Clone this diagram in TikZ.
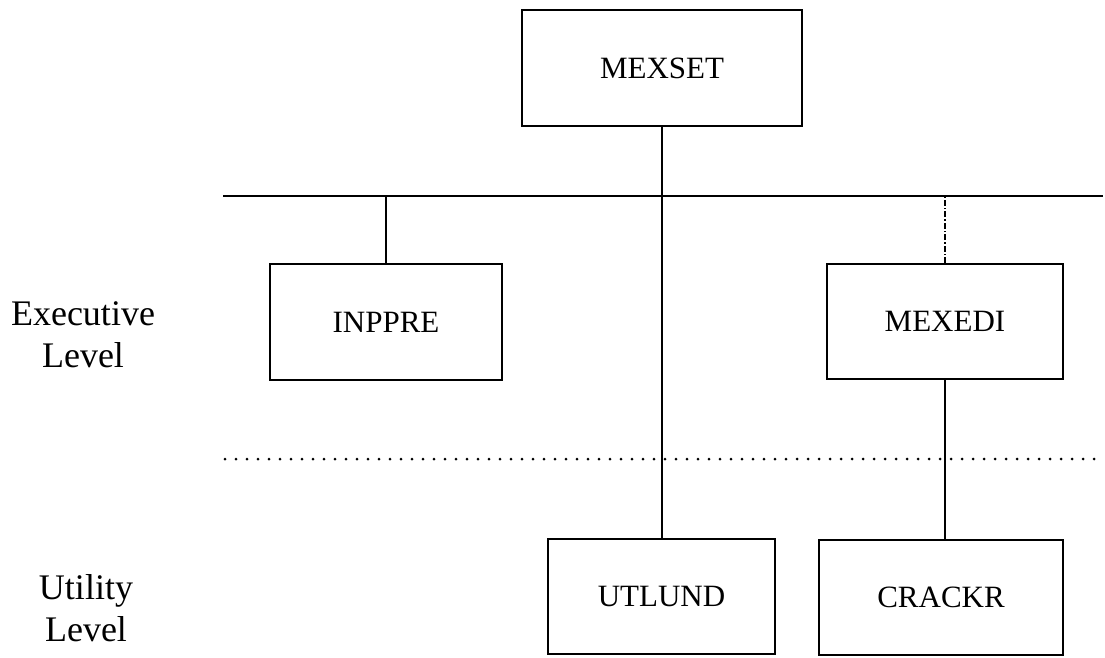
\documentclass[tikz,border=0pt]{standalone}
\usepackage{fontspec}
\setmainfont{Liberation Serif}
\begin{document}
\begin{tikzpicture}[x=1pt,y=-1pt,
  module/.style={draw,line width=1.6pt,inner sep=0pt,font=\fontsize{31}{36}\selectfont},
  levellabel/.style={align=center,inner sep=0pt,font=\fontsize{36}{42}\selectfont},
  wire/.style={line width=1.3pt},
  brokenwire/.style={line width=1.1pt,dash pattern=on 6pt off 2pt on 1.5pt off 2pt},
  levelrule/.style={line width=3pt,line cap=round,dash pattern=on 0pt off 11pt}]
\useasboundingbox (0,0) rectangle (1105,657);

% modules
\node[module,minimum width=280pt,minimum height=116pt] (mexset) at (662,68) {MEXSET};
\node[module,minimum width=232pt,minimum height=116pt] (inppre) at (386,322) {INPPRE};
\node[module,minimum width=236pt,minimum height=115pt] (mexedi) at (945,321.5) {MEXEDI};
\node[module,minimum width=227pt,minimum height=115pt] (utlund) at (661.5,596.5) {UTLUND};
\node[module,minimum width=244pt,minimum height=115pt] (crackr) at (941,597.5) {CRACKR};

% level labels
\node[levellabel] (exec) at (83,335) {Executive\\Level};
\node[levellabel] (util) at (86,608) {Utility\\Level};

% call bus below the top module
\coordinate (busL) at (223,196);
\coordinate (busR) at (1103,196);
\draw[wire] (busL) -- (busR);

% boundary between executive and utility levels
\coordinate (sepL) at (225,459);
\coordinate (sepR) at (1100,459);
\draw[levelrule] (sepL) -- (sepR);

% connections
\draw[wire] (mexset.south) -- (mexset.south |- utlund.north);
\draw[wire] (inppre.north) -- (inppre.north |- busL);
\draw[brokenwire] (mexedi.north) -- (mexedi.north |- busL);
\draw[wire] (mexedi.south) -- (mexedi.south |- crackr.north);
\end{tikzpicture}
\end{document}
